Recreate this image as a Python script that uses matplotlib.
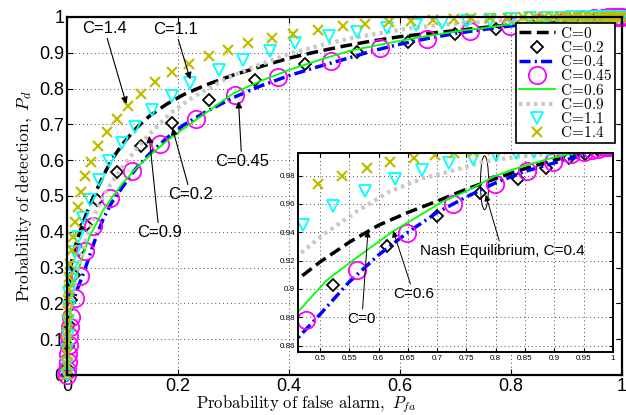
import numpy as np
import matplotlib
matplotlib.use("Agg")
import matplotlib.pyplot as plt
from matplotlib.patches import Ellipse
from matplotlib.ticker import FuncFormatter

plt.rcParams['mathtext.fontset'] = 'cm'
plt.rcParams['font.family'] = ['Liberation Sans', 'DejaVu Sans']

# ---------------- data ----------------
c0_pts = [(0, 0), (0.001, 0.12), (0.003, 0.22), (0.006, 0.29), (0.01, 0.33), (0.015, 0.36),
          (0.02, 0.385), (0.03, 0.43), (0.04, 0.47), (0.05, 0.505), (0.065, 0.555), (0.08, 0.6),
          (0.1, 0.645), (0.125, 0.69), (0.15, 0.725), (0.18, 0.757), (0.21, 0.783), (0.25, 0.81),
          (0.3, 0.838), (0.35, 0.862), (0.4, 0.885), (0.45, 0.903), (0.5, 0.919), (0.55, 0.933),
          (0.6, 0.945), (0.65, 0.954), (0.7, 0.962), (0.75, 0.9705), (0.8, 0.978), (0.85, 0.985),
          (0.9, 0.991), (0.95, 0.996), (1.0, 1.0)]

c02_pts = [(0.0, 0.0), (0.0005, 0.02), (0.002, 0.08), (0.004, 0.14), (0.007, 0.21), (0.013, 0.28),
           (0.022, 0.35), (0.035, 0.42), (0.0545, 0.49), (0.0895, 0.566), (0.133, 0.64),
           (0.189, 0.705), (0.256, 0.768), (0.339, 0.824), (0.428, 0.868), (0.523, 0.9025),
           (0.614, 0.9303), (0.699, 0.9513), (0.773, 0.9677), (0.838, 0.978), (0.886, 0.9852),
           (0.925, 0.9922), (0.952, 0.995), (0.975, 0.998), (0.99, 1.0)]

c04_pts = [(0, 0), (0.002, 0.09), (0.005, 0.15), (0.01, 0.2), (0.02, 0.245), (0.03, 0.285),
           (0.04, 0.33), (0.05, 0.375), (0.065, 0.435), (0.08, 0.48), (0.1, 0.525), (0.125, 0.578),
           (0.15, 0.62), (0.18, 0.662), (0.21, 0.698), (0.25, 0.735), (0.3, 0.775), (0.35, 0.808),
           (0.4, 0.836), (0.45, 0.86), (0.5, 0.882), (0.55, 0.905), (0.6, 0.924), (0.65, 0.94),
           (0.7, 0.954), (0.75, 0.965), (0.8, 0.975), (0.85, 0.983), (0.9, 0.989), (0.95, 0.9945),
           (1.0, 1.0)]

c045_pts = [(0.0, 0.0), (0.0005, 0.015), (0.001, 0.035), (0.002, 0.06), (0.003, 0.085),
            (0.0042, 0.11), (0.0054, 0.135), (0.008, 0.163), (0.014, 0.214), (0.023, 0.277),
            (0.032, 0.345), (0.0475, 0.417), (0.078, 0.494), (0.117, 0.571), (0.168, 0.645),
            (0.232, 0.715), (0.303, 0.782), (0.38, 0.832), (0.4756, 0.878), (0.564, 0.9134),
            (0.649, 0.9392), (0.727, 0.96), (0.798, 0.974), (0.853, 0.9835), (0.898, 0.9896),
            (0.929, 0.995), (0.95, 0.997), (0.965, 0.998), (0.975, 0.999), (0.985, 1.0),
            (0.99, 1.0), (0.995, 1.0), (1.0, 1.0)]

c06_pts = [(0, 0), (0.002, 0.06), (0.004, 0.11), (0.006, 0.165), (0.0085, 0.21), (0.0144, 0.26),
           (0.02, 0.29), (0.03, 0.34), (0.04, 0.385), (0.0535, 0.425), (0.065, 0.46), (0.083, 0.5),
           (0.1, 0.535), (0.125, 0.578), (0.15, 0.615), (0.185, 0.66), (0.23, 0.71), (0.3, 0.787),
           (0.35, 0.822), (0.4, 0.852), (0.4625, 0.8838), (0.511, 0.906), (0.563, 0.9222),
           (0.625, 0.9408), (0.71, 0.9618), (0.75, 0.969), (0.8, 0.980), (0.847, 0.9868),
           (0.9, 0.993), (0.926, 0.9952), (0.95, 0.997), (1.0, 1.0)]

c09_pts = [(0, 0), (0.002, 0.1), (0.005, 0.17), (0.01, 0.23), (0.02, 0.3), (0.0355, 0.386),
           (0.0535, 0.461), (0.0715, 0.517), (0.1045, 0.591), (0.1375, 0.655), (0.15, 0.675),
           (0.186, 0.731), (0.228, 0.777), (0.29, 0.83), (0.33, 0.857), (0.4, 0.897), (0.45, 0.918),
           (0.472, 0.9269), (0.506, 0.9385), (0.563, 0.9548), (0.619, 0.9688), (0.676, 0.9782),
           (0.722, 0.983), (0.779, 0.9898), (0.835, 0.9933), (0.892, 0.9957), (0.95, 0.998),
           (1.0, 1.0)]

c11_pts = [(0.0, 0.0), (0.0002, 0.03), (0.0005, 0.07), (0.001, 0.11), (0.002, 0.15), (0.003, 0.19),
           (0.0045, 0.23), (0.0065, 0.265), (0.009, 0.3), (0.0144, 0.344), (0.02, 0.386),
           (0.029, 0.438), (0.042, 0.49), (0.058, 0.545), (0.076, 0.597), (0.099, 0.649),
           (0.1225, 0.694), (0.154, 0.74), (0.189, 0.78), (0.222, 0.815), (0.273, 0.852),
           (0.318, 0.88), (0.366, 0.905), (0.411, 0.926), (0.4716, 0.9455), (0.523, 0.9583),
           (0.577, 0.9693), (0.628, 0.9777), (0.675, 0.984), (0.721, 0.9887), (0.7614, 0.992),
           (0.800, 0.9945), (0.835, 0.996), (0.865, 0.997), (0.89, 0.998), (0.91, 0.999),
           (0.93, 0.999), (0.945, 1.0), (0.96, 1.0), (0.97, 1.0), (0.98, 1.0), (0.99, 1.0), (1.0, 1.0)]

c14_pts = [(0.0, 0.0), (0.0, 0.03), (0.0003, 0.06), (0.0005, 0.09), (0.0008, 0.12), (0.001, 0.15),
           (0.0015, 0.18), (0.002, 0.21), (0.003, 0.24), (0.004, 0.275), (0.0055, 0.31),
           (0.0085, 0.349), (0.0114, 0.386), (0.0144, 0.428), (0.02, 0.47), (0.026, 0.512),
           (0.033, 0.556), (0.044, 0.596), (0.0565, 0.64), (0.073, 0.68), (0.09, 0.715),
           (0.11, 0.75), (0.133, 0.784), (0.158, 0.818), (0.189, 0.845), (0.22, 0.868),
           (0.255, 0.89), (0.291, 0.909), (0.327, 0.926), (0.369, 0.94), (0.408, 0.953),
           (0.453, 0.964), (0.497, 0.974), (0.537, 0.98), (0.581, 0.9852), (0.62, 0.9894),
           (0.66, 0.9926), (0.697, 0.9945), (0.728, 0.996), (0.762, 0.997), (0.795, 0.998),
           (0.822, 0.999), (0.843, 0.999), (0.86, 1.0), (0.875, 1.0), (0.89, 1.0), (0.9, 1.0),
           (0.91, 1.0), (0.92, 1.0), (0.93, 1.0), (0.94, 1.0), (0.95, 1.0), (0.96, 1.0),
           (0.97, 1.0), (0.975, 1.0), (0.98, 1.0), (0.985, 1.0), (0.99, 1.0), (0.995, 1.0),
           (1.0, 1.0)]

labels = ['C=0', 'C=0.2', 'C=0.4', 'C=0.45', 'C=0.6', 'C=0.9', 'C=1.1', 'C=1.4']
main_xticks = [0, 0.2, 0.4, 0.6, 0.8, 1]
main_yticks = [0, 0.1, 0.2, 0.3, 0.4, 0.5, 0.6, 0.7, 0.8, 0.9, 1]
inset_xticks = [0.5, 0.55, 0.6, 0.65, 0.7, 0.75, 0.8, 0.85, 0.9, 0.95, 1]
inset_yticks = [0.86, 0.88, 0.9, 0.92, 0.94, 0.96, 0.98]

series = [c0_pts, c02_pts, c04_pts, c045_pts, c06_pts, c09_pts, c11_pts, c14_pts]
styles = [
    dict(color='k', ls=(0, (3.4, 1.6)), lw=2.5, marker=None),
    dict(color='k', ls='none', marker='D', ms=6.5, mfc='none', mew=1.3),
    dict(color=(0, 0, 1), ls=(0, (3.2, 1.2, 0.6, 1.2)), lw=2.5, marker=None),
    dict(color=(1, 0, 1), ls='none', marker='o', ms=12.5, mfc='none', mew=1.3),
    dict(color=(0, 1, 0), ls='-', lw=1.3, marker=None),
    dict(color=(0.8, 0.78, 0.76), ls=(0, (0.8, 1.0)), lw=3.0, marker=None),
    dict(color=(0, 1, 1), ls='none', marker='v', ms=8.5, mfc='none', mew=1.3),
    dict(color=(0.75, 0.75, 0), ls='none', marker='x', ms=7.5, mew=1.6),
]

fig = plt.figure(figsize=(6.26, 4.15), dpi=100)
ax = fig.add_axes([0.107, 0.0964, 0.8866, 0.8627])
axin = fig.add_axes([0.476, 0.1518, 0.503, 0.4795])

handles = []
for pts, st, lab in zip(series, styles, labels):
    x = [p[0] for p in pts]
    y = [p[1] for p in pts]
    h, = ax.plot(x, y, label=lab, clip_on=False, **st)
    handles.append(h)
    axin.plot(x, y, **st)

grid_kw = dict(color=(0.3, 0.3, 0.3), ls=(0, (1, 3)), lw=0.7)

# main axes
ax.set_xlim(0, 1)
ax.set_ylim(0, 1)
ax.set_xticks(main_xticks)
ax.set_yticks(main_yticks)
ax.xaxis.set_major_formatter(FuncFormatter(lambda v, p: '%g' % v))
ax.yaxis.set_major_formatter(FuncFormatter(lambda v, p: '%g' % v))
ax.tick_params(direction='in', top=True, right=True, length=4, labelsize=13, pad=2)
ax.grid(True, **grid_kw)
for s in ax.spines.values():
    s.set_linewidth(1.6)
ax.set_xlabel(r'$\mathrm{Probability\ of\ false\ alarm},\ P_{fa}$', fontsize=12)
ax.xaxis.set_label_coords(0.432, -0.051, transform=ax.transAxes)
ax.xaxis.label.set_va('top')
ax.set_ylabel(r'$\mathrm{Probability\ of\ detection},\ P_{d}$', fontsize=12.5, labelpad=3)

leg = ax.legend(handles=handles, labels=[r'$\mathrm{C\!=\!%s}$' % l[2:] for l in labels],
                loc='upper right', bbox_to_anchor=(0.9865, 0.982), fontsize=11,
                frameon=True, fancybox=False, framealpha=1, edgecolor='k',
                labelspacing=-0.05, handlelength=2.4, handletextpad=0.3,
                borderpad=0.15, borderaxespad=0.0)
leg.get_frame().set_linewidth(1.2)
leg.set_zorder(20)

# main annotations
ann_kw = dict(arrowprops=dict(arrowstyle='-|>', color='k', lw=0.8,
                              mutation_scale=10, shrinkA=0, shrinkB=0),
              fontsize=12, ha='center', va='center')
ax.annotate('C=1.4', xy=(0.107, 0.757), xytext=(0.067, 0.969), **ann_kw)
ax.annotate('C=1.1', xy=(0.222, 0.826), xytext=(0.195, 0.966), **ann_kw)
ax.annotate('C=0.45', xy=(0.309, 0.765), xytext=(0.315, 0.596), **ann_kw)
ax.annotate('C=0.2', xy=(0.19, 0.69), xytext=(0.223, 0.503), **ann_kw)
ax.annotate('C=0.9', xy=(0.148, 0.668), xytext=(0.166, 0.397), **ann_kw)

# inset
axin.set_xlim(0.4625, 1.0)
axin.set_ylim(0.8555, 0.996)
axin.set_xticks(inset_xticks)
axin.set_yticks(inset_yticks)
axin.xaxis.set_major_formatter(FuncFormatter(lambda v, p: '%g' % v))
axin.yaxis.set_major_formatter(FuncFormatter(lambda v, p: '%g' % v))
axin.tick_params(direction='in', top=True, right=True, length=3, labelsize=5.8, pad=2)
axin.grid(True, **grid_kw)
for s in axin.spines.values():
    s.set_linewidth(1.4)
axin.set_facecolor('white')
axin.set_zorder(10)

ann_in = dict(arrowprops=dict(arrowstyle='-|>', color='k', lw=0.7,
                              mutation_scale=9, shrinkA=0, shrinkB=0),
              fontsize=11, ha='center', va='center')
axin.annotate('C=0', xy=(0.582, 0.941), xytext=(0.5716, 0.879), **ann_in)
axin.annotate('C=0.6', xy=(0.625, 0.941), xytext=(0.66, 0.8966), **ann_in)
axin.annotate('Nash Equilibrium, C=0.4', xy=(0.783, 0.9665), xytext=(0.811, 0.9269), **ann_in)
axin.add_patch(Ellipse((0.781, 0.975), 0.014, 0.038, fill=False, ec='k', lw=0.7))

fig.savefig('out.png', dpi=100)
